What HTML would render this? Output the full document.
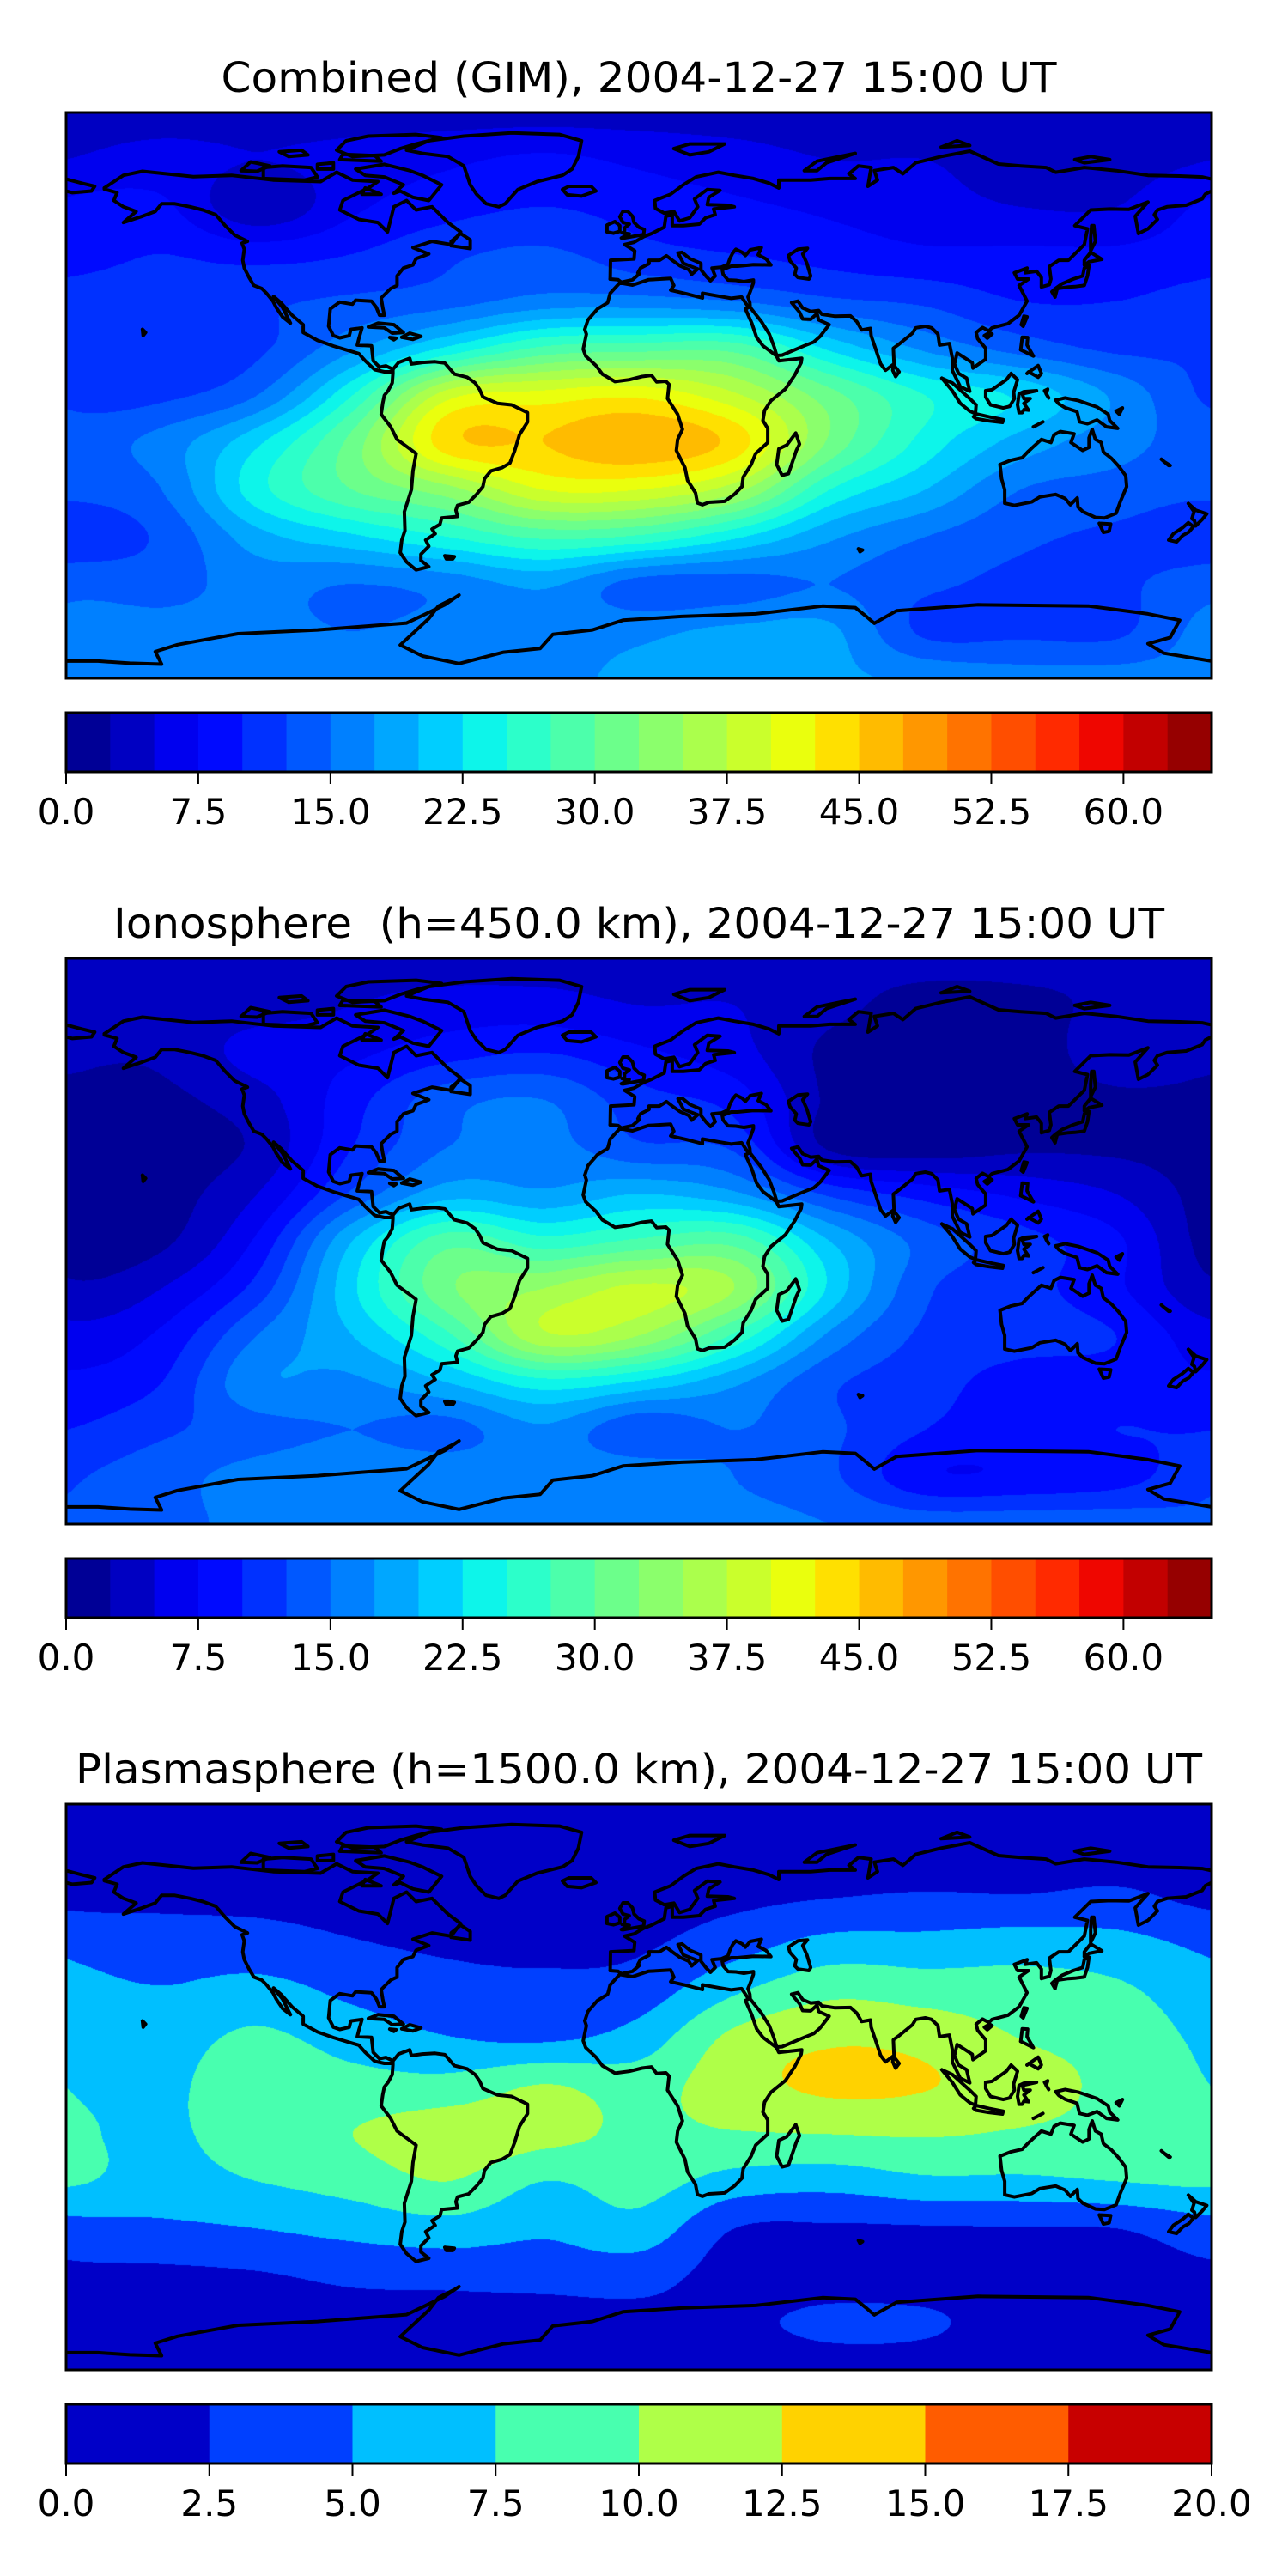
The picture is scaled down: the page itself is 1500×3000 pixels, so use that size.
<!DOCTYPE html>
<html><head><meta charset="utf-8">
<style>
html,body{margin:0;padding:0;background:#fff;}
#root{position:relative;width:1500px;height:3000px;overflow:hidden;background:#fff;}
canvas{position:absolute;}
svg{position:absolute;left:0;top:0;}
</style></head>
<body>
<div id="root">
<canvas id="f0" width="1334" height="659" style="left:77px;top:131px"></canvas>
<canvas id="f1" width="1334" height="659" style="left:77px;top:1116px"></canvas>
<canvas id="f2" width="1334" height="659" style="left:77px;top:2101px"></canvas>
<svg id="ov" width="1500" height="3000" xmlns="http://www.w3.org/2000/svg"></svg>
</div>
<script>
// ---------- data ----------
const gridLats = [90,75,60,45,30,15,0,-15,-30,-45,-60,-75,-90];
const gridLons = [-180,-150,-120,-90,-60,-30,0,30,60,90,120,150];
const combinedTEC = [
 [4,5,8,9,11,12,12,14,13,11,14,16,16],
 [4,6,8,10,11,11,12,16,15,13,14,16,17],
 [4,5,3,9,12,12,15,22,24,19,16,16,17],
 [4,6,7,10,13,17,25,31,30,22,15,15,17],
 [4,7,9,12,14,23,39,44,34,25,16,16,17],
 [4,8,10,13,16,28,41,45,40,28,18,17,17],
 [4,7,9,11,16,29,42,47,40,27,14,17,18],
 [4,6,8,10,15,29,38,44,36,23,14,18,19],
 [4,5,7,9,13,22,31,32,25,18,15,18,18],
 [4,5,6,8,12,17,25,24,20,15,13,12,17],
 [4,4,5,8,10,14,22,19,15,13,12,12,16],
 [4,4,5,8,10,12,17,16,14,12,12,12,16]
];
const ionoTEC = [
 [4,4,3,2,1.5,1.5,1.5,3,6,8,10,12,13],
 [4,4,3,2,1.5,1.5,2,5,8,10,12,14,14],
 [4,4,6,4,3,5,8,11,15,17,14,16,16],
 [4,5,7,9,10,13,20,22,20,17,15,17,17],
 [4,6,9,14,15,19,29,32,27,20,14,17,17],
 [4,6,10,15,16,18,26,35,37,24,17,17,17],
 [4,5,8,11,13,20,28,38,35,22,13,17,17],
 [4,5,6,9,12,18,29,35,27,18,15,15,16],
 [3,3,2,2,2,12,20,22,17,13,13,13,15],
 [3,2,2,1,1,9,14,13,12,11,10,8,14],
 [3,2,1,1,2,7,11,11,11,9,9,8,14],
 [3,3,4,2,2,5,8,8,10,9,10,9,14]
];
const plasmaTEC = [
 [1,1.5,2,4.5,6,7,7.5,8,7.8,4,2,1.5,1],
 [1,1.5,2,3.8,5.2,6.5,7,7,6.5,4.5,2,1.3,1],
 [1,1.5,2,3.5,6,8,9,9,7.5,5,2.3,1.2,1],
 [1,1.3,1.8,2.7,4.5,6.5,8.5,10,8.5,5.8,3,1.5,1],
 [1,1.3,1.7,2.2,3.5,5.2,8.5,11.5,10,6.5,3.2,1.5,1],
 [1,1.3,1.7,2,3.2,4.8,10.2,10.8,7.5,5.5,3.3,1.5,1],
 [1,1.3,1.6,2.2,3.8,6.2,9.0,9.5,8.5,6.5,3.5,1.7,1],
 [1,1.5,2,4,7.3,10.7,11.5,9.8,6.5,2.5,1.5,2,1],
 [1,1.5,2.5,6,9.5,12.2,12.9,10,6,2.2,1.5,3,1.5],
 [1,1.5,2.8,6,9,11.8,12.6,10.2,7,2.3,1.5,2.8,1.5],
 [1,1.5,2.7,6.5,8.5,10,11.2,9.7,7,2.4,1.5,1.5,1],
 [1,1.5,3,6,8,9,9.3,9,7.5,2.5,1.5,1.3,1]
];
const titles = ["Combined (GIM), 2004-12-27 15:00 UT","Ionosphere\u00a0\u00a0(h=450.0 km), 2004-12-27 15:00 UT","Plasmasphere (h=1500.0 km), 2004-12-27 15:00 UT"];
const titleWidths = [973,1224,1312];
const levelMax = [65,65,20];
const levelStep = [2.5,2.5,2.5];
const ticksA = ["0.0","7.5","15.0","22.5","30.0","37.5","45.0","52.5","60.0"];
const tickValsA = [0,7.5,15,22.5,30,37.5,45,52.5,60];
const ticksB = ["0.0","2.5","5.0","7.5","10.0","12.5","15.0","17.5","20.0"];
const tickValsB = [0,2.5,5,7.5,10,12.5,15,17.5,20];

// coastlines (lon,lat)
const coasts = [
[[-168,66],[-162,70],[-156,71.3],[-140,69.6],[-128,70],[-115,68.5],[-100,68],[-95,71],[-90,68.5],[-82,68],[-85,66],[-93,62],[-94,59],[-88,56],[-82,55],[-79,52],[-78,56],[-77,60],[-73,62],[-70,59],[-65,60],[-62,57],[-60,55],[-56,52],[-59,48],[-65,49],[-71,47],[-66,45],[-70,43.5],[-71,41.5],[-74,40.5],[-76,38],[-76,35],[-78,34],[-81,31],[-80.5,28],[-80,25.5],[-81.5,25.5],[-82.5,28],[-84,30],[-89,30.3],[-90,29],[-94,29.7],[-97,27.5],[-97.5,22],[-96,19],[-94,18.3],[-91,19],[-90.5,21],[-87,21.5],[-88,18],[-88.5,16],[-84,15.8],[-83.5,11],[-81.5,9],[-79.5,9.4],[-77.3,8.3],[-77.9,7.5],[-80,7.5],[-83,8.2],[-86,11],[-88,13.3],[-92,14.5],[-96,15.7],[-101,17.5],[-105.5,20],[-105.5,22.5],[-109,25.5],[-112.5,29.5],[-114.8,31.5],[-112,28],[-110,24],[-109.5,23],[-112,25],[-114,28],[-115,30],[-117,32.5],[-118.5,34],[-121,35],[-122.5,37.5],[-124,40.5],[-124.5,43],[-124,46.5],[-124.7,48.4],[-123,49],[-127,51],[-130,54],[-133,57.5],[-137,59],[-141,60],[-146,61],[-150,61],[-152,58.5],[-156,57],[-162,55],[-158,58.5],[-162,60],[-165,62],[-164,64.5],[-168,65.6],[-168,66]],
[[-73,78],[-66,81],[-55,82.5],[-40,83.5],[-25,83],[-18,81],[-19,76],[-21,72],[-24,70],[-32,68],[-38,65.5],[-42,61],[-44,60],[-48,61],[-51,64],[-53,67],[-54,70],[-55,73],[-60,76],[-68,77],[-73,78]],
[[-80,73.5],[-72,71.5],[-68,70],[-62,67],[-64,64.5],[-66,62],[-71,63],[-75,65],[-77,64.3],[-74,67],[-80,69.5],[-86,70],[-89,72],[-80,73.5]],
[[-90,76],[-80,76.5],[-75,78.5],[-70,80],[-62,82],[-70,83],[-85,82.5],[-92,81],[-95,78],[-90,76]],
[[-118,69],[-105,68.5],[-101,69.5],[-103,72.5],[-112,73],[-118,72.5],[-118,69]],
[[-125,71.5],[-122,74.3],[-116,73],[-120,71.3],[-125,71.5]],
[[-94,75],[-81,74.5],[-83,76.3],[-93,76.7],[-94,75]],
[[-101,72],[-96,72],[-96,74],[-101,73.5],[-101,72]],
[[-110,76],[-104,76.5],[-106,78],[-113,77.5],[-110,76]],
[[-87,64],[-81,64],[-86,66],[-87,64]],
[[-59,47.6],[-53,46.7],[-53,49.5],[-56,51.5],[-59,49],[-59,47.6]],
[[-85,21.8],[-82,23],[-77,22.5],[-74,20],[-77.5,19.8],[-80,21.5],[-85,21.8]],
[[-74.5,18.5],[-72,19.8],[-68.5,18.8],[-71,17.8],[-74.5,18.5]],
[[-78.3,18.4],[-76.3,18.2],[-77,17.7],[-78.3,18.4]],
[[-156,21],[-155,20],[-155.8,19],[-156,21]],
[[-77.3,8.3],[-75.5,10.5],[-72,11.8],[-71.5,10],[-68,10.5],[-64,10.7],[-61,10.3],[-58,6.8],[-54,5.8],[-51.5,4],[-50,1.8],[-49,-0.5],[-44.5,-2.5],[-40,-3],[-35,-5.5],[-35,-8.5],[-37.5,-12.5],[-39,-17.5],[-40.5,-21.5],[-43,-23],[-46.5,-24],[-48.5,-26.5],[-49,-29],[-51,-31.5],[-53.5,-34],[-57,-35],[-57.5,-36.5],[-57,-38.5],[-62,-39],[-62.5,-41],[-65,-42.5],[-64,-44],[-67,-46],[-66,-48],[-68.5,-50.5],[-68.5,-52.5],[-66,-54.5],[-70,-55.5],[-73,-53],[-75,-50],[-74.5,-46],[-73.5,-43],[-73.7,-37],[-71.5,-30],[-71,-24],[-70,-18.5],[-72,-17],[-76,-14],[-78,-10],[-81,-6],[-80.5,-2.5],[-80,0],[-78.8,1.5],[-77.5,4],[-77.3,7],[-77.3,8.3]],
[[-61,-51],[-58,-51.3],[-58.5,-52],[-60.5,-52],[-61,-51]],
[[-17,21],[-16,24],[-13,27.5],[-9.8,29.5],[-9,32.5],[-6,35.8],[-2,35.1],[3,36.8],[10,37.2],[11,35],[10,33.5],[15,32.3],[20,31],[20,32.5],[25,31.6],[29,30.9],[32.3,31.3],[34.5,28],[33.5,27.5],[35.5,23],[37,18.5],[39,15.8],[43.2,12.6],[44,11],[51.2,11.8],[51,10.4],[49,6.5],[46,2],[41.5,-1.7],[39.5,-4.8],[39,-8],[40.5,-10.5],[40.5,-15],[36.7,-18.5],[35.3,-22],[32.8,-26],[32.4,-29],[30,-31.5],[27,-33.7],[22,-34],[20,-34.8],[18.4,-34.2],[17.8,-31],[15.3,-27],[14.5,-23],[11.8,-17.5],[12.2,-14],[13.7,-10.8],[12.2,-6],[9,-1],[9.5,3.5],[8.5,4.5],[5.6,4.3],[4,6.4],[1,6],[-3,5],[-7.5,4.4],[-11.5,6.8],[-13.5,9.5],[-16.7,12.5],[-17.5,14.7],[-16.5,19.5],[-17,21]],
[[49.3,-12],[50.5,-15.5],[49.5,-17.5],[47,-24.9],[45,-25.4],[43.3,-22],[44,-17],[46.5,-15.8],[49.3,-12]],
[[-9,37],[-8.9,43],[-1.5,43.4],[-1.3,46],[-4.5,48],[-1.5,48.7],[1.5,50.5],[4,51.5],[8,53.5],[8.5,57],[10.5,57.5],[10.5,54],[14,54],[19,54.5],[21,56.5],[24,57.5],[23.5,59.3],[30,60],[28,60.5],[21.5,60.7],[22,63],[25.5,65.2],[21.5,65.5],[17.5,62.5],[18.5,60],[16,56.5],[12.8,55.5],[11,58.5],[8,58],[5.2,59.5],[5,62],[10,64],[14,67],[18,69.5],[25,71],[30,70],[36,69],[41,67.5],[44,66],[44,68.5],[54,68.5],[60,69],[68,69],[66,70.5],[69,73],[73,72.5],[72,66.5],[75,68.5],[74,71.5],[80,72.5],[83,70.5],[87,74],[95,76],[104,77.7],[113,73.6],[120,73],[128,72.5],[131,71],[140,72.5],[150,71.5],[160,70],[170,69.8],[177,69.5],[180,68.8]],
[[180,65],[178,64],[177,62.5],[172,60.5],[166,60],[163,59],[162,57.5],[163,56],[160,53],[157,51.5],[156,57],[160,61.5],[154,59.2],[148,59.3],[142,59],[137,54],[141,53],[140,48],[135,43],[132,43],[129,41],[129.5,37],[129,35.2],[126.5,34.5],[126.5,37.5],[125,39.5],[121.5,39],[122,40.5],[118,39],[119,37],[122.5,37],[119.5,35],[121,32],[122,30],[119.5,25.5],[116,22.8],[111,21.5],[110,20.5],[108,21.6],[106,20],[106.5,18],[109,15],[109,11.5],[105,8.7],[104.8,10.4],[102,12.2],[100,13.5],[99.2,10],[100.5,7],[103,5.5],[104,1.3],[101,2.8],[98.5,8],[98.5,12],[97.6,16.5],[94.5,16],[94,19.5],[92,21.5],[90,22],[87,21.5],[86,19.8],[82,16.5],[80,15],[80.2,10],[77.5,8],[76,10],[74.5,14.5],[73,19],[72.8,21.3],[70,20.8],[68.5,23.5],[66.5,25.3],[61.5,25.2],[57.5,25.8],[56.5,27],[54,26.7],[51.5,27.8],[50,30],[48,29.5],[50.5,26.5],[51.5,24.3],[54,24.2],[56,26],[56.5,24],[59.8,22.5],[57,18.8],[55,17],[52,15.8],[45,12.8],[43.3,12.7],[42.5,15.5],[41,19.5],[38.5,23.5],[35,28],[34.9,29.5],[34.3,31.3],[35,33],[36,35.8],[36,36.7],[33,36.2],[30.5,36.6],[28,36.7],[26.5,38.5],[26.2,40],[29,41.1],[31,41.1],[36,41.6],[41.5,41.5],[40,43.4],[37.5,44.7],[38.5,47],[35,46.3],[33.5,44.5],[32.5,45.5],[30.5,46.5],[29.5,45.3],[28.6,43.5],[28,41.7],[26,40.8],[23,40.5],[24,38],[22.5,36.5],[21.2,37.8],[19.5,40],[19.5,42],[16,43.5],[13.6,45.5],[12.3,45.3],[14,42],[16,41.2],[18.5,40.2],[16.6,38.5],[15.7,40],[13,41.2],[10.5,43],[8.7,44.4],[6.5,43],[3.2,43],[3.2,41.9],[0.5,40.5],[-0.3,39],[0.2,38.7],[-2,36.8],[-5.5,36],[-6.5,36.8],[-9,37]],
[[-180,68.8],[-175,67.5],[-171,66.5],[-172,65],[-178,64.5],[-180,65]],
[[47,44.5],[50,46.5],[53,46.8],[51.5,45],[52.8,42],[54,38],[53.5,37],[50,37.5],[49,38.5],[49.5,40.5],[47.5,42.8],[47,44.5]],
[[-5,50],[1.5,51.2],[1.7,52.8],[0,53.5],[-1.5,55],[-2,57],[-3.5,58.6],[-5,58.6],[-6,56.8],[-5,55],[-3,54.5],[-4.5,53.3],[-4.5,52],[-5.3,51.7],[-3,51.4],[-5.5,50.1],[-5,50]],
[[-6,52.2],[-6,54],[-7.5,55.3],[-10,54.2],[-10,52],[-8,51.6],[-6,52.2]],
[[-24,65.5],[-22,66.5],[-15,66.5],[-13.5,65],[-18,63.4],[-22.5,63.8],[-24,65.5]],
[[11,78.5],[16,80],[27,80],[22,77.5],[16,76.5],[11,78.5]],
[[52,71.5],[56,74.5],[68,77],[59,74],[56,71.5],[52,71.5]],
[[95,79],[104,79.5],[100,81],[95,79]],
[[137,75],[142,76],[148,75],[140,74],[137,75]],
[[142,46],[143.5,49],[143,54],[142.3,54],[142,50],[142,46]],
[[130.8,31.3],[131.5,34],[135,34.5],[137,34.6],[140,35],[141,38],[141.5,41.3],[140,40.5],[139.5,38],[136.5,37],[133,35.5],[130.9,34],[129.8,33],[130.8,31.3]],
[[140,41.5],[141.5,42.5],[145.5,43.3],[142,45.5],[140,43],[140,41.5]],
[[120.2,22.5],[121,25.2],[122,25],[120.8,22],[120.2,22.5]],
[[108.6,19],[110.2,20],[111,19.5],[109.5,18.2],[108.6,19]],
[[120,14.5],[120.5,18.5],[122.2,18.4],[122,16],[124,12.5],[121,14],[120,14.5]],
[[122,7],[125.5,9.5],[126.5,7],[125.5,5.8],[122.5,7.5],[122,7]],
[[79.8,8],[80,9.8],[81.8,7.5],[80.7,6],[79.8,8]],
[[95.2,5.5],[98.5,4],[104,-1],[106,-3],[105.8,-5.8],[104,-5],[101,-2.5],[98.5,1.5],[95.2,5.5]],
[[105.2,-6.8],[106,-5.9],[110,-6.8],[114.5,-7.7],[114.3,-8.6],[110,-8.1],[106,-7.4],[105.2,-6.8]],
[[109,1.5],[111,1.8],[115.5,5],[117,7],[119,5],[117.8,1],[118,-1],[116.5,-3.5],[114.5,-4],[110.5,-3],[109,-0.5],[109,1.5]],
[[119.5,-5.5],[119,-3],[119.5,0.5],[121,1.2],[125,1.5],[120.5,0.5],[121,-1],[123,-1],[121,-2.5],[122.5,-4.7],[121,-4.5],[120.5,-5.5],[119.5,-5.5]],
[[131,-1.5],[134,-0.8],[138,-1.6],[144,-3.7],[147.5,-6],[148,-8],[150.5,-10.5],[147,-10],[144,-7.8],[141,-9],[138.5,-8.4],[137.7,-5.2],[134,-3.9],[132,-2.7],[131,-1.5]],
[[124,-10],[127,-8.4],[125,-9.5],[124,-10]],
[[127.5,1.5],[128.5,2],[128,0.5],[128.8,-0.8],[127.5,1.5]],
[[150,-5],[152,-4],[151,-6],[150,-5]],
[[113.5,-22],[114,-26.5],[115,-30],[115,-34.3],[118,-35],[123.5,-33.9],[126,-32.3],[131,-31.5],[134,-32.8],[135.6,-34.8],[137.8,-32.6],[138,-35.5],[139.6,-37],[143.5,-38.8],[146.3,-39],[150,-37.5],[151.3,-33.8],[153.3,-29],[153,-25.5],[150.8,-22.5],[148.5,-20],[146,-18],[145.3,-15],[143.5,-14],[142.5,-10.8],[141.5,-13.5],[141.5,-16.5],[139.5,-17.5],[135.8,-15],[136.8,-12.2],[132.5,-11.5],[130.5,-12.5],[129.5,-15],[126.5,-14],[124,-16.3],[122.2,-18],[120.5,-19.8],[117,-20.6],[113.5,-22]],
[[144.7,-40.7],[148.3,-40.9],[147.8,-43.2],[146,-43.6],[144.7,-40.7]],
[[172.7,-34.4],[175,-36.5],[178.5,-37.7],[177,-39.5],[175,-41.5],[174.6,-39.8],[173.8,-39.2],[174.5,-37],[172.7,-34.4]],
[[172.7,-40.5],[174.3,-41.7],[172.8,-43.5],[171,-44.5],[169,-46.6],[166.5,-46],[168,-44],[171,-42],[172.7,-40.5]],
[[165,-21],[167,-22.3],[166.5,-22.3],[164.2,-20.3],[165,-21]],
[[69,-48.8],[70.3,-49.2],[69.5,-49.7],[69,-48.8]],
[[-180,-84.5],[-170,-84.5],[-160,-85.2],[-150,-85.5],[-152,-81.5],[-145,-79.3],[-126,-75.8],[-101,-74.6],[-73,-72.4],[-68,-70],[-61,-66.6],[-56.5,-63.5],[-58,-64.5],[-63,-67],[-66,-71],[-75,-79.4],[-68,-82.9],[-56.5,-85.3],[-42.5,-81.7],[-31,-80.5],[-27,-76],[-14.6,-74.6],[-5,-71.5],[13.4,-70.3],[36.7,-69.5],[57.7,-67],[68,-67.5],[71.7,-70.5],[74,-72.5],[81,-68.5],[106.6,-66.6],[141.5,-67],[160,-69.5],[170,-71.5],[167,-77],[160,-79],[165,-82],[180,-84.5]]
];

// ---------- geometry ----------
const MAPX=77, MAPW=1334, MAPH=659;
const mapTops=[131,1116,2101];
function xLon(lon){return MAPX+(lon+180)/360*MAPW;}
function yLat(lat,p){return mapTops[p]+(90-lat)/180*MAPH;}

const jetR=[[0,0],[0.35,0],[0.66,1],[0.89,1],[1,0.5]];
const jetG=[[0,0],[0.125,0],[0.375,1],[0.64,1],[0.91,0],[1,0]];
const jetB=[[0,0.5],[0.11,1],[0.34,1],[0.65,0],[1,0]];
function seg(s,x){for(let i=1;i<s.length;i++){if(x<=s[i][0]){const a=s[i-1],b=s[i];return a[1]+(b[1]-a[1])*(x-a[0])/(b[0]-a[0]);}}return s[s.length-1][1];}
function jet(x){return [Math.round(seg(jetR,x)*255),Math.round(seg(jetG,x)*255),Math.round(seg(jetB,x)*255)];}
function cr(p0,p1,p2,p3,t){
  return 0.5*(2*p1+(-p0+p2)*t+(2*p0-5*p1+4*p2-p3)*t*t+(-p0+3*p1-3*p2+p3)*t*t*t);
}
const fields=[combinedTEC,ionoTEC,plasmaTEC];

function drawField(p){
  const cv=document.getElementById('f'+p);
  const ctx=cv.getContext('2d');
  const img=ctx.createImageData(MAPW,MAPH);
  const F=fields[p], nc=gridLons.length, nr=gridLats.length;
  const nLev=Math.round(levelMax[p]/levelStep[p]);
  const cols=[];for(let i=0;i<nLev;i++)cols.push(jet((i+0.5)/nLev));
  const colVals=new Array(nc);
  for(let py=0;py<MAPH;py++){
    const lat=90-(py+0.5)/MAPH*180;
    const fr=(90-lat)/15; let r=Math.floor(fr); if(r>nr-2)r=nr-2; const tr=fr-r;
    const ri=k=>Math.max(0,Math.min(nr-1,k));
    for(let c=0;c<nc;c++){
      const col=F[c];
      colVals[c]=cr(col[ri(r-1)],col[ri(r)],col[ri(r+1)],col[ri(r+2)],tr);
    }
    for(let px=0;px<MAPW;px++){
      const lon=-180+(px+0.5)/MAPW*360;
      const fc=(lon+180)/30; const c=Math.floor(fc); const tc=fc-c;
      const w=k=>colVals[((k%nc)+nc)%nc];
      let v=cr(w(c-1),w(c),w(c+1),w(c+2),tc);
      let li=Math.floor(v/levelStep[p]); if(li<0)li=0; if(li>nLev-1)li=nLev-1;
      const o=(py*MAPW+px)*4, cc=cols[li];
      img.data[o]=cc[0];img.data[o+1]=cc[1];img.data[o+2]=cc[2];img.data[o+3]=255;
    }
  }
  ctx.putImageData(img,0,0);
}
[0,1,2].forEach(drawField);

// ---------- overlay ----------
const NS='http://www.w3.org/2000/svg';
const ov=document.getElementById('ov');
function mk(tag,attrs,parent){const e=document.createElementNS(NS,tag);for(const k in attrs)e.setAttribute(k,attrs[k]);(parent||ov).appendChild(e);return e;}

for(let p=0;p<3;p++){
  const g=mk('g',{});
  
  
  const top=mapTops[p];
  const t=mk('text',{x:744,y:top-24,'text-anchor':'middle','font-family':'DejaVu Sans, Liberation Sans, sans-serif','font-size':48,fill:'#000',textLength:titleWidths[p],lengthAdjust:'spacingAndGlyphs'},g);
  t.textContent=titles[p];
  
  
  const cg=mk('g',{fill:'none',stroke:'#000','stroke-width':4,'stroke-linejoin':'round','stroke-linecap':'round'},g);
  
  
  const cp=mk('clipPath',{id:'clip'+p},g);
  mk('rect',{x:MAPX,y:top,width:MAPW,height:MAPH},cp);
  cg.setAttribute('clip-path','url(#clip'+p+')');
  coasts.forEach(poly=>{
    const d=poly.map((q,i)=>(i?'L':'M')+xLon(q[0]).toFixed(1)+' '+yLat(q[1],p).toFixed(1)).join('');
    const pe=mk('path',{d:d},cg);
    
    
  });
  const fr=mk('rect',{x:MAPX,y:top,width:MAPW,height:MAPH,fill:'none',stroke:'#000','stroke-width':3},g);
  
  
  const cbTop=top+699, cbH=69;
  const nLev=Math.round(levelMax[p]/levelStep[p]);
  const cbScale=v=>MAPX+v/levelMax[p]*MAPW;
  const cbg=mk('g',{},g);
  
  
  for(let i=0;i<nLev;i++){
    const c=jet((i+0.5)/nLev);
    const x0=cbScale(i*levelStep[p]), x1=cbScale((i+1)*levelStep[p]);
    const r=mk('rect',{x:x0.toFixed(2),y:cbTop,width:(x1-x0+0.6).toFixed(2),height:cbH,fill:'rgb('+c.join(',')+')'},cbg);
    
    
  }
  mk('rect',{x:MAPX,y:cbTop,width:MAPW,height:cbH,fill:'none',stroke:'#000','stroke-width':3},cbg);
  const tl=p<2?ticksA:ticksB, tv=p<2?tickValsA:tickValsB;
  tv.forEach((v,i)=>{
    const x=cbScale(v);
    const tk=mk('line',{x1:x,x2:x,y1:cbTop+cbH,y2:cbTop+cbH+14,stroke:'#000','stroke-width':2},cbg);
    
    
    const tx=mk('text',{x:x,y:cbTop+cbH+61,'text-anchor':'middle','font-family':'DejaVu Sans, Liberation Sans, sans-serif','font-size':42,fill:'#000'},cbg);
    tx.textContent=tl[i];
    
    
  });
}
</script>
</body></html>
